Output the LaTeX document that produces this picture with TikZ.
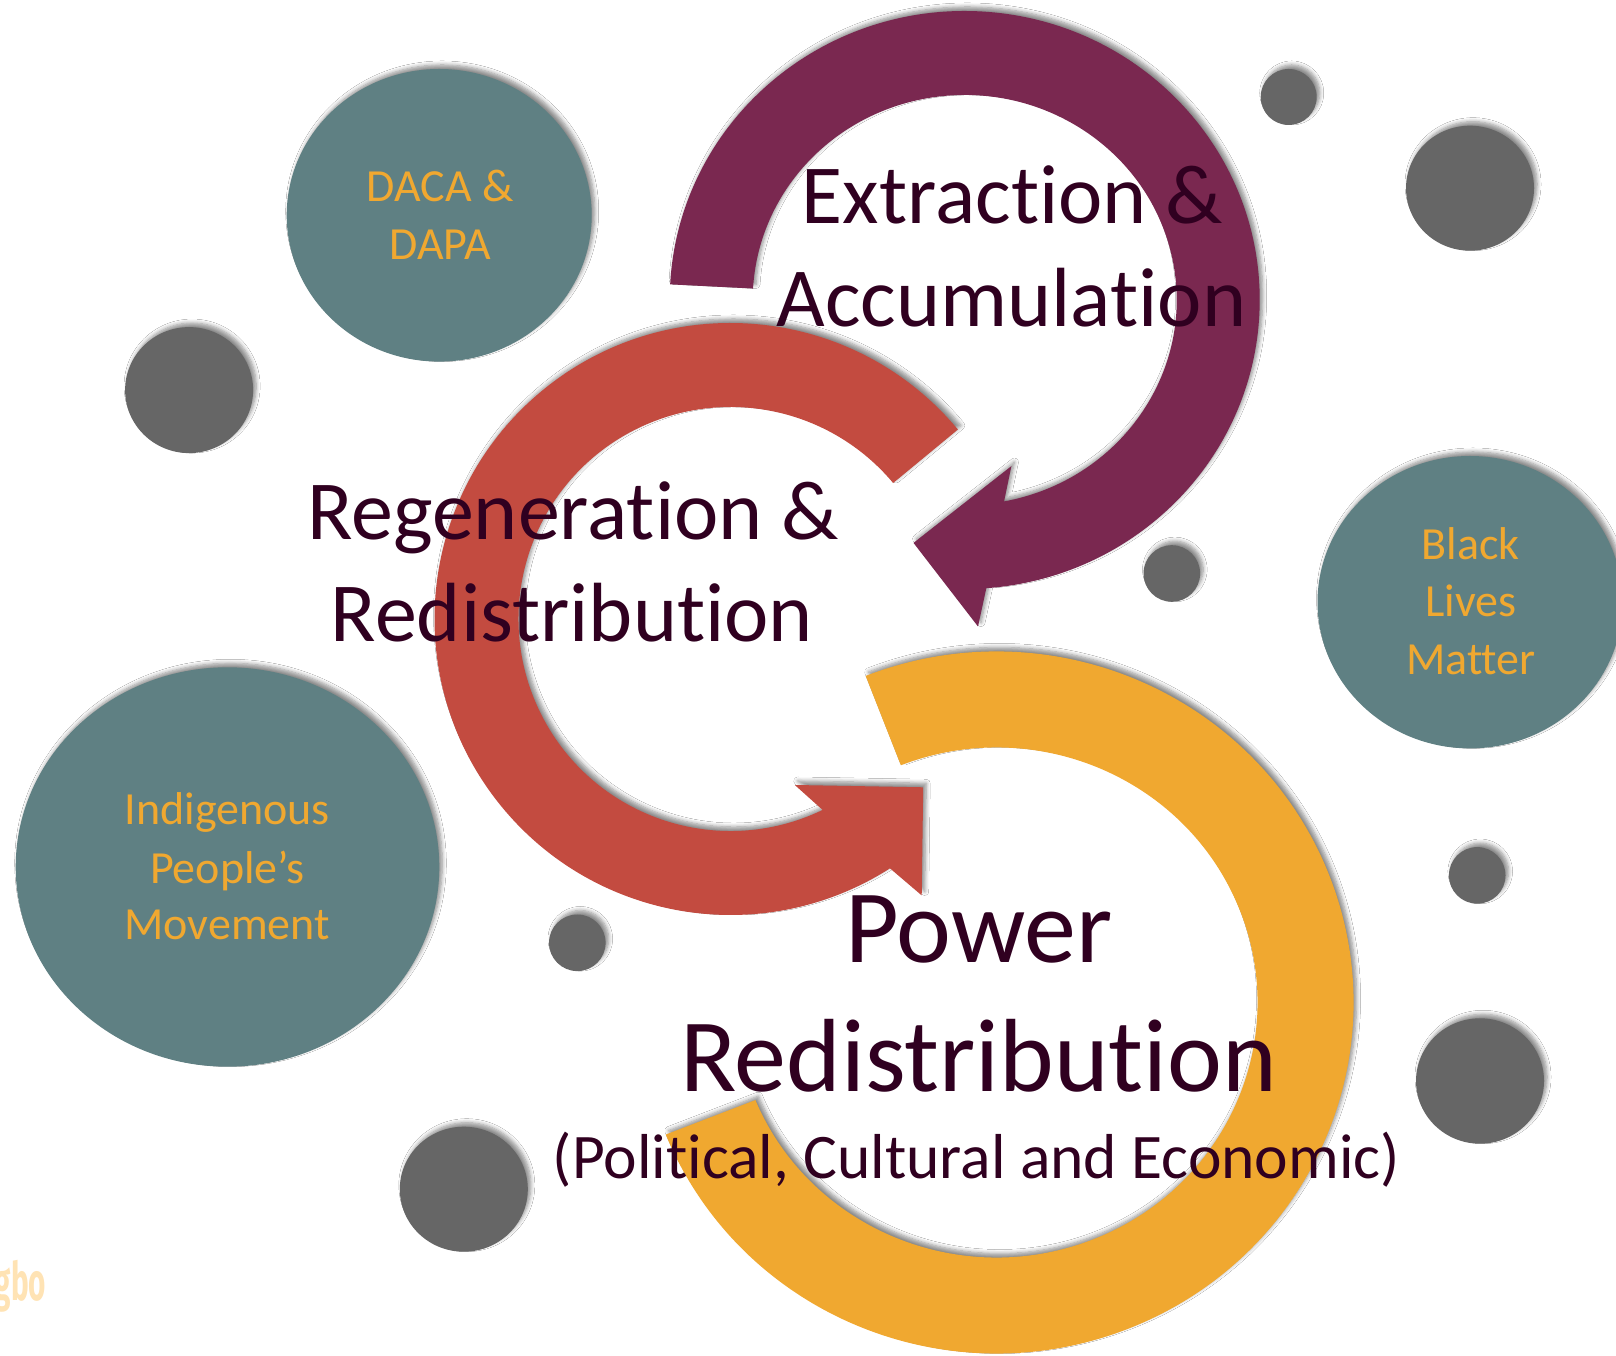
\documentclass[tikz,border=0pt]{standalone}
\usepackage{fontspec}
\setmainfont{Carlito}[Ligatures=NoCommon]
\newfontfamily\gbofont{Fira Sans}[FakeStretch=0.56]
\usetikzlibrary{shadows.blur}
\definecolor{arcpurple}{RGB}{122,40,80}
\definecolor{arcred}{RGB}{195,75,64}
\definecolor{arcyellow}{RGB}{240,168,48}
\definecolor{tealc}{RGB}{95,128,131}
\definecolor{dotgray}{RGB}{102,102,102}
\definecolor{txtdark}{RGB}{48,0,32}
\definecolor{txtorange}{RGB}{240,168,48}
\definecolor{gbocol}{RGB}{255,227,180}
\tikzset{
  shad/.style={blur shadow={shadow xshift=3pt, shadow yshift=4pt, shadow blur radius=4pt, shadow blur steps=6, shadow opacity=45}},
  bigtxt/.style={text=txtdark, font=\fontsize{104}{120}\selectfont, inner sep=0pt, anchor=base},
  midtxt/.style={text=txtdark, font=\fontsize{84}{100}\selectfont, inner sep=0pt, anchor=base},
  subtxt/.style={text=txtdark, font=\fontsize{63.5}{76}\selectfont, inner sep=0pt, anchor=base},
  circtxt/.style={text=txtorange, font=\fontsize{46}{57}\selectfont, inner sep=0pt, anchor=base},
  tealdisc/.style={fill=tealc, shad},
  graydot/.style={fill=dotgray, shad},
}
\begin{document}
\begin{tikzpicture}[x=1pt,y=1pt]
\fill[white] (0,0) rectangle (1616,1355);
\clip (0,0) rectangle (1616,1355);

% gray dots
\fill[graydot] (1288.7,1258) ellipse [x radius=28pt, y radius=28pt];
\fill[graydot] (1470,1166.8) ellipse [x radius=64pt, y radius=62.5pt];
\fill[graydot] (189.1,964.9) ellipse [x radius=64pt, y radius=63pt];
\fill[graydot] (1171.8,781.5) ellipse [x radius=28.3pt, y radius=28.3pt];
\fill[graydot] (1477.2,479.6) ellipse [x radius=28.3pt, y radius=28.3pt];
\fill[graydot] (577.3,412.2) ellipse [x radius=28.3pt, y radius=28.3pt];
\fill[graydot] (1480,274) ellipse [x radius=64pt, y radius=62.7pt];
\fill[graydot] (463.8,165.8) ellipse [x radius=64pt, y radius=62.5pt];

% teal discs
\fill[tealdisc] (439.2,1139.7) ellipse [x radius=152.5pt, y radius=146.3pt];
\fill[tealdisc] (1470,752.8) ellipse [x radius=152.5pt, y radius=146.2pt];
\fill[tealdisc] (227.5,488) ellipse [x radius=211.8pt, y radius=199.7pt];

% purple arc (Extraction & Accumulation)
\fill[arcpurple, shad]
  ([shift={(964.7,1055)}]176.9:295pt and 289pt)
  arc[start angle=176.9, end angle=-85.8, x radius=295pt, y radius=289pt]
  -- (978,728.5) -- (913.5,812.1) -- (1011.4,888.9)
  -- ([shift={(964.7,1055)}]-79.3:212pt and 205pt)
  arc[start angle=-79.3, end angle=176.8, x radius=212pt, y radius=205pt]
  -- cycle;

% red arc (Regeneration & Redistribution)
\fill[arcred, shad]
  ([shift={(730.5,736)}]39.8:296pt)
  arc[start angle=39.8, end angle=302.6, radius=296pt]
  -- (921.7,459.6) -- (923.2,567.7) -- (794.8,570)
  -- ([shift={(730.5,736)}]295.75:212pt)
  arc[start angle=295.75, end angle=39.9, radius=212pt]
  -- cycle;

% yellow arc (Power Redistribution)
\fill[arcyellow, shad]
  ([shift={(996.5,352.5)}]111.5:357pt and 351pt)
  arc[start angle=111.5, end angle=-157.9, x radius=357pt, y radius=351pt]
  -- ([shift={(996.5,352.5)}]-157.5:261pt and 255pt)
  arc[start angle=-157.5, end angle=111.5, x radius=261pt, y radius=255pt]
  -- cycle;

% circle texts
\node[circtxt] (daca1) at (440,1153.3) {DACA \&};
\node[circtxt] (daca2) at (440,1095.7) {DAPA};
\node[circtxt] (blm1) at (1470.8,795) {Black};
\node[circtxt] (blm2) at (1470.8,738.3) {Lives};
\node[circtxt] (blm3) at (1470.8,680.7) {Matter};
\node[circtxt] (ipm1) at (227.2,530) {Indigenous};
\node[circtxt] (ipm2) at (227.2,471.7) {People’s};
\node[circtxt] (ipm3) at (227.2,415) {Movement};

% main texts
\node[midtxt] (ext1) at (1012.5,1131.3) {Extraction \&};
\node[midtxt] (ext2) at (1011.5,1028.5) {Accumulation};
\node[midtxt] (reg1) at (573,815) {Regeneration \&};
\node[midtxt] (reg2) at (572,713.3) {Redistribution};
\node[bigtxt] (pow1) at (979,392) {Power};
\node[bigtxt] (pow2) at (978.6,263.5) {Redistribution};
\node[subtxt] (pow3) at (976.5,176.7) {(Political, Cultural and Economic)};

% faint logo fragment, cut by the left edge as in the reference
\node[anchor=base east, inner sep=0pt, text=gbocol, font=\gbofont\bfseries\fontsize{53}{60}\selectfont] (gbo) at (46.5,55) {gbo};
\end{tikzpicture}
\end{document}
